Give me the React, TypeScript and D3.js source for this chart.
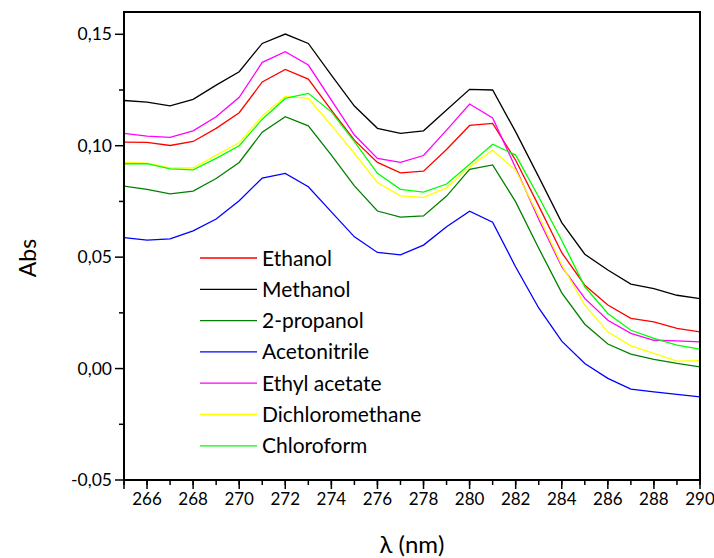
import React from "react";
import * as d3 from "d3";

// wavelength (nm)
const wavelengths = d3.range(265, 291);

const ethanol = [0.1016, 0.1015, 0.1001, 0.1019, 0.1078, 0.1148, 0.1286, 0.1342, 0.1299, 0.116, 0.1025, 0.0925, 0.0878, 0.0886, 0.0983, 0.1091, 0.11, 0.0935, 0.073, 0.052, 0.0374, 0.0285, 0.0225, 0.021, 0.018, 0.0165];
const methanol = [0.1203, 0.1196, 0.1179, 0.1208, 0.1272, 0.1332, 0.1459, 0.1501, 0.1459, 0.1317, 0.1178, 0.1078, 0.1055, 0.1067, 0.116, 0.1253, 0.125, 0.1062, 0.086, 0.0655, 0.0513, 0.0442, 0.0379, 0.0359, 0.0329, 0.0314];
const propanol = [0.0819, 0.0804, 0.0784, 0.0796, 0.0853, 0.0925, 0.1061, 0.113, 0.1089, 0.0958, 0.082, 0.0707, 0.068, 0.0685, 0.0774, 0.0894, 0.0914, 0.0748, 0.054, 0.034, 0.0199, 0.011, 0.0065, 0.0041, 0.0023, 0.0008];
const acetonitrile = [0.0588, 0.0576, 0.0582, 0.0618, 0.0671, 0.0753, 0.0855, 0.0876, 0.0816, 0.0703, 0.0591, 0.0521, 0.051, 0.0554, 0.0636, 0.0706, 0.0657, 0.0456, 0.0272, 0.0123, 0.0023, -0.0044, -0.0092, -0.0105, -0.0116, -0.0127];
const ethylAcetate = [0.1055, 0.1043, 0.1037, 0.1067, 0.113, 0.1217, 0.1374, 0.1422, 0.1362, 0.1205, 0.1048, 0.0943, 0.0925, 0.0956, 0.107, 0.1187, 0.1125, 0.09, 0.067, 0.0457, 0.0315, 0.0217, 0.0158, 0.0127, 0.0124, 0.012];
const dichloromethane = [0.0925, 0.0922, 0.09, 0.09, 0.0958, 0.1013, 0.1134, 0.1221, 0.1212, 0.1092, 0.0965, 0.0835, 0.0775, 0.0768, 0.0811, 0.0905, 0.098, 0.089, 0.0685, 0.0465, 0.0285, 0.0165, 0.0102, 0.0068, 0.0033, 0.0035];
const chloroform = [0.0919, 0.092, 0.0896, 0.0892, 0.0943, 0.1, 0.1119, 0.1212, 0.1235, 0.1152, 0.1018, 0.0876, 0.0804, 0.0792, 0.0828, 0.0917, 0.1007, 0.0958, 0.077, 0.0575, 0.0367, 0.0247, 0.0172, 0.0135, 0.0105, 0.0087];

const seriesNames = ["Ethanol", "Methanol", "2-propanol", "Acetonitrile", "Ethyl acetate", "Dichloromethane", "Chloroform"];
const seriesValues = [ethanol, methanol, propanol, acetonitrile, ethylAcetate, dichloromethane, chloroform];
const seriesColors = ["#ff0000", "#000000", "#008000", "#0000ff", "#ff00ff", "#ffff00", "#00ff00"];

const xTicks = d3.range(266, 291, 2);
const xMinorTicks = d3.range(265, 291, 1);
const yTicks = [-0.05, 0, 0.05, 0.1, 0.15];
const yMinorTicks = [-0.025, 0.025, 0.075, 0.125];

const W = 714;
const H = 558;
const left = 124;
const right = 700;
const top = 12;
const bottom = 480;
const font = "Lato, 'Open Sans', sans-serif";

export default function App() {
  const x = d3.scaleLinear().domain([265, 290]).range([left, right]);
  const y = d3.scaleLinear().domain([-0.05, 0.16]).range([bottom, top]);
  const line = d3
    .line<number>()
    .x((_, i) => x(wavelengths[i]))
    .y((d) => y(d));
  const fmt = (v: number) => d3.format(".2f")(v).replace(".", ",").replace("−", "-");

  return (
    <svg width={W} height={H} style={{ position: "absolute", left: 0, top: 0, background: "#fff" }}>
      <g clipPath="url(#plot)">
        <defs>
          <clipPath id="plot">
            <rect x={left} y={top} width={right - left} height={bottom - top} />
          </clipPath>
        </defs>
        {seriesValues.map((vals, i) => (
          <path key={i} d={line(vals) || ""} fill="none" stroke={seriesColors[i]} strokeWidth={1.3} />
        ))}
      </g>

      {/* legend */}
      {seriesNames.map((name, i) => {
        const ly = 258 + i * 31.3;
        return (
          <g key={name}>
            <line x1={200} x2={257} y1={ly} y2={ly} stroke={seriesColors[i]} strokeWidth={1.3} />
            <text x={262} y={ly} dy="0.36em" fontFamily={font} fontSize={21} fill="#000">
              {name}
            </text>
          </g>
        );
      })}

      <rect x={left} y={top} width={right - left} height={bottom - top} fill="none" stroke="#000" strokeWidth={2} />

      {/* x axis ticks */}
      {xMinorTicks.map((t) => (
        <line key={"xm" + t} x1={x(t)} x2={x(t)} y1={bottom} y2={bottom + 5} stroke="#000" strokeWidth={1.5} />
      ))}
      {[265, ...xTicks].map((t) => (
        <line key={"x" + t} x1={x(t)} x2={x(t)} y1={bottom} y2={bottom + 9} stroke="#000" strokeWidth={1.5} />
      ))}
      {xTicks.map((t) => (
        <text key={"xl" + t} x={x(t)} y={505} textAnchor="middle" fontFamily={font} fontSize={17} fill="#000">
          {t}
        </text>
      ))}

      {/* y axis ticks */}
      {yMinorTicks.map((t) => (
        <line key={"ym" + t} x1={left - 5} x2={left} y1={y(t)} y2={y(t)} stroke="#000" strokeWidth={1.5} />
      ))}
      {yTicks.map((t) => (
        <line key={"y" + t} x1={left - 9} x2={left} y1={y(t)} y2={y(t)} stroke="#000" strokeWidth={1.5} />
      ))}
      {yTicks.map((t) => (
        <text key={"yl" + t} x={left - 12} y={y(t)} dy="0.35em" textAnchor="end" fontFamily={font} fontSize={17.5} fill="#000">
          {fmt(t)}
        </text>
      ))}

      <text x={(left + right) / 2} y={553} textAnchor="middle" fontFamily={font} fontSize={24} fill="#000">
        λ (nm)
      </text>
      <text
        transform={`translate(28, ${(top + bottom) / 2 + 12}) rotate(-90)`}
        textAnchor="middle"
        dy="0.35em"
        fontFamily={font}
        fontSize={23}
        fill="#000"
      >
        Abs
      </text>
    </svg>
  );
}
